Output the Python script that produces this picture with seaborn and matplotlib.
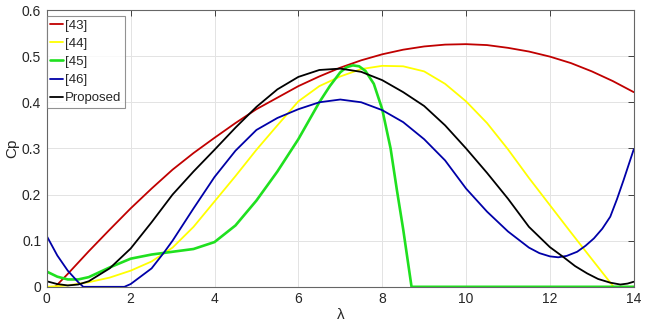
"""Cp vs tip speed ratio, comparison of Cp models."""

import matplotlib

matplotlib.use("Agg")
import matplotlib.pyplot as plt
import pandas as pd
import seaborn as sns

# [43]
lam_43 = [0.2, 0.5, 1, 1.5, 2, 2.5, 3, 3.5, 4, 4.5, 5, 5.5, 6, 6.5, 7, 7.5, 8, 8.5, 9, 9.5,
          10, 10.5, 11, 11.5, 12, 12.5, 13, 13.5, 14]
cp_43 = [0.0, 0.028, 0.077, 0.124, 0.17, 0.213, 0.254, 0.29, 0.323, 0.355, 0.385, 0.41, 0.435,
         0.456, 0.475, 0.491, 0.504, 0.514, 0.521, 0.525, 0.526, 0.524, 0.518, 0.51, 0.499,
         0.485, 0.467, 0.446, 0.422]

# [44]
lam_44 = [0, 0.5, 1, 1.5, 2, 2.5, 3, 3.5, 4, 4.5, 5, 5.5, 6, 6.5, 7, 7.5, 8, 8.5, 9, 9.5,
          10, 10.5, 11, 11.5, 12, 12.5, 13, 13.52, 14]
cp_44 = [0.0, 0.003, 0.01, 0.02, 0.035, 0.055, 0.085, 0.13, 0.185, 0.24, 0.297, 0.35, 0.402,
         0.435, 0.456, 0.472, 0.479, 0.478, 0.467, 0.44, 0.402, 0.355, 0.298, 0.236, 0.177,
         0.118, 0.06, 0.0, 0.0]

# [45]
lam_45 = [0, 0.25, 0.5, 0.75, 1, 1.5, 2, 2.5, 3, 3.5, 4, 4.5, 5, 5.5, 6, 6.5, 6.75, 7, 7.15,
          7.3, 7.45, 7.6, 7.8, 8.0, 8.2, 8.35, 8.5, 8.7, 14]
cp_45 = [0.033, 0.022, 0.016, 0.016, 0.021, 0.042, 0.061, 0.07, 0.076, 0.082, 0.097, 0.133,
         0.187, 0.25, 0.32, 0.4, 0.435, 0.465, 0.476, 0.48, 0.478, 0.468, 0.44, 0.385, 0.3,
         0.21, 0.125, 0.0, 0.0]

# [46]
lam_46 = [0, 0.25, 0.5, 0.75, 0.87, 1.85, 2, 2.5, 2.8, 3, 3.5, 4, 4.5, 5, 5.5, 6, 6.5, 7,
          7.5, 8, 8.5, 9, 9.5, 10, 10.5, 11, 11.5, 11.75, 12, 12.2, 12.4, 12.65, 12.85, 13.05,
          13.25, 13.44, 13.6, 13.76, 14]
cp_46 = [0.11, 0.068, 0.035, 0.01, 0.0, 0.0, 0.006, 0.04, 0.075, 0.1, 0.17, 0.238, 0.295,
         0.34, 0.366, 0.385, 0.4, 0.406, 0.4, 0.383, 0.357, 0.32, 0.274, 0.213, 0.163, 0.12,
         0.085, 0.073, 0.066, 0.064, 0.067, 0.076, 0.089, 0.105, 0.126, 0.152, 0.19, 0.232,
         0.298]

# Proposed
lam_prop = [0, 0.25, 0.5, 0.75, 1, 1.5, 2, 2.5, 3, 3.5, 4, 4.5, 5, 5.5, 6, 6.5, 7, 7.5, 8,
            8.5, 9, 9.5, 10, 10.5, 11, 11.5, 12, 12.33, 12.6, 12.89, 13.15, 13.44, 13.68,
            13.85, 14]
cp_prop = [0.012, 0.006, 0.003, 0.005, 0.012, 0.04, 0.083, 0.14, 0.2, 0.25, 0.297, 0.345,
           0.39, 0.428, 0.455, 0.47, 0.473, 0.466, 0.448, 0.422, 0.392, 0.35, 0.30, 0.247,
           0.191, 0.13, 0.086, 0.064, 0.045, 0.029, 0.017, 0.009, 0.005, 0.007, 0.011]

SERIES = [
    ("[43]", lam_43, cp_43, "#c00000", 1.3),
    ("[44]", lam_44, cp_44, "#ffff00", 1.3),
    ("[45]", lam_45, cp_45, "#1fe01f", 1.9),
    ("[46]", lam_46, cp_46, "#0000a8", 1.3),
    ("Proposed", lam_prop, cp_prop, "#000000", 1.3),
]


def main() -> None:
    sns.set_theme(style="whitegrid")
    plt.rcParams["font.family"] = ["Liberation Sans", "DejaVu Sans"]
    plt.rcParams["xtick.direction"] = "in"
    plt.rcParams["ytick.direction"] = "in"

    fig = plt.figure(figsize=(6.5, 3.23), dpi=100)
    ax = fig.add_axes([0.072, 0.112, 0.903, 0.857])

    for name, lam, cp, color, lw in SERIES:
        df = pd.DataFrame({"lambda": lam, "cp": cp})
        sns.lineplot(data=df, x="lambda", y="cp", ax=ax, color=color, linewidth=lw,
                     label=name, estimator=None, sort=False)

    ax.set_xlim(0, 14)
    ax.set_ylim(0, 0.6)
    ax.set_xticks(range(0, 15, 2))
    ax.set_yticks([0, 0.1, 0.2, 0.3, 0.4, 0.5, 0.6])
    ax.set_yticklabels(["0", "0.1", "0.2", "0.3", "0.4", "0.5", "0.6"])
    ax.tick_params(axis="both", labelsize=10, colors="#262626", length=4, width=0.6,
                   top=True, right=True, pad=4)
    ax.grid(True, color="#e3e3e3", linewidth=0.7)
    for spine in ax.spines.values():
        spine.set_color("#666666")
        spine.set_linewidth(0.8)

    ax.set_xlabel("λ", fontsize=11, labelpad=1)
    ax.set_ylabel("Cp", fontsize=11, labelpad=2)

    leg = ax.legend(loc="upper left", bbox_to_anchor=(0.0, 0.978), fontsize=9.5,
                    frameon=True, fancybox=False, borderaxespad=0, handlelength=1.0,
                    handletextpad=0.15, labelspacing=0.45, borderpad=0.25)
    leg.get_frame().set_edgecolor("#777777")
    leg.get_frame().set_linewidth(0.8)

    fig.savefig("out.png", dpi=100)


if __name__ == "__main__":
    main()
